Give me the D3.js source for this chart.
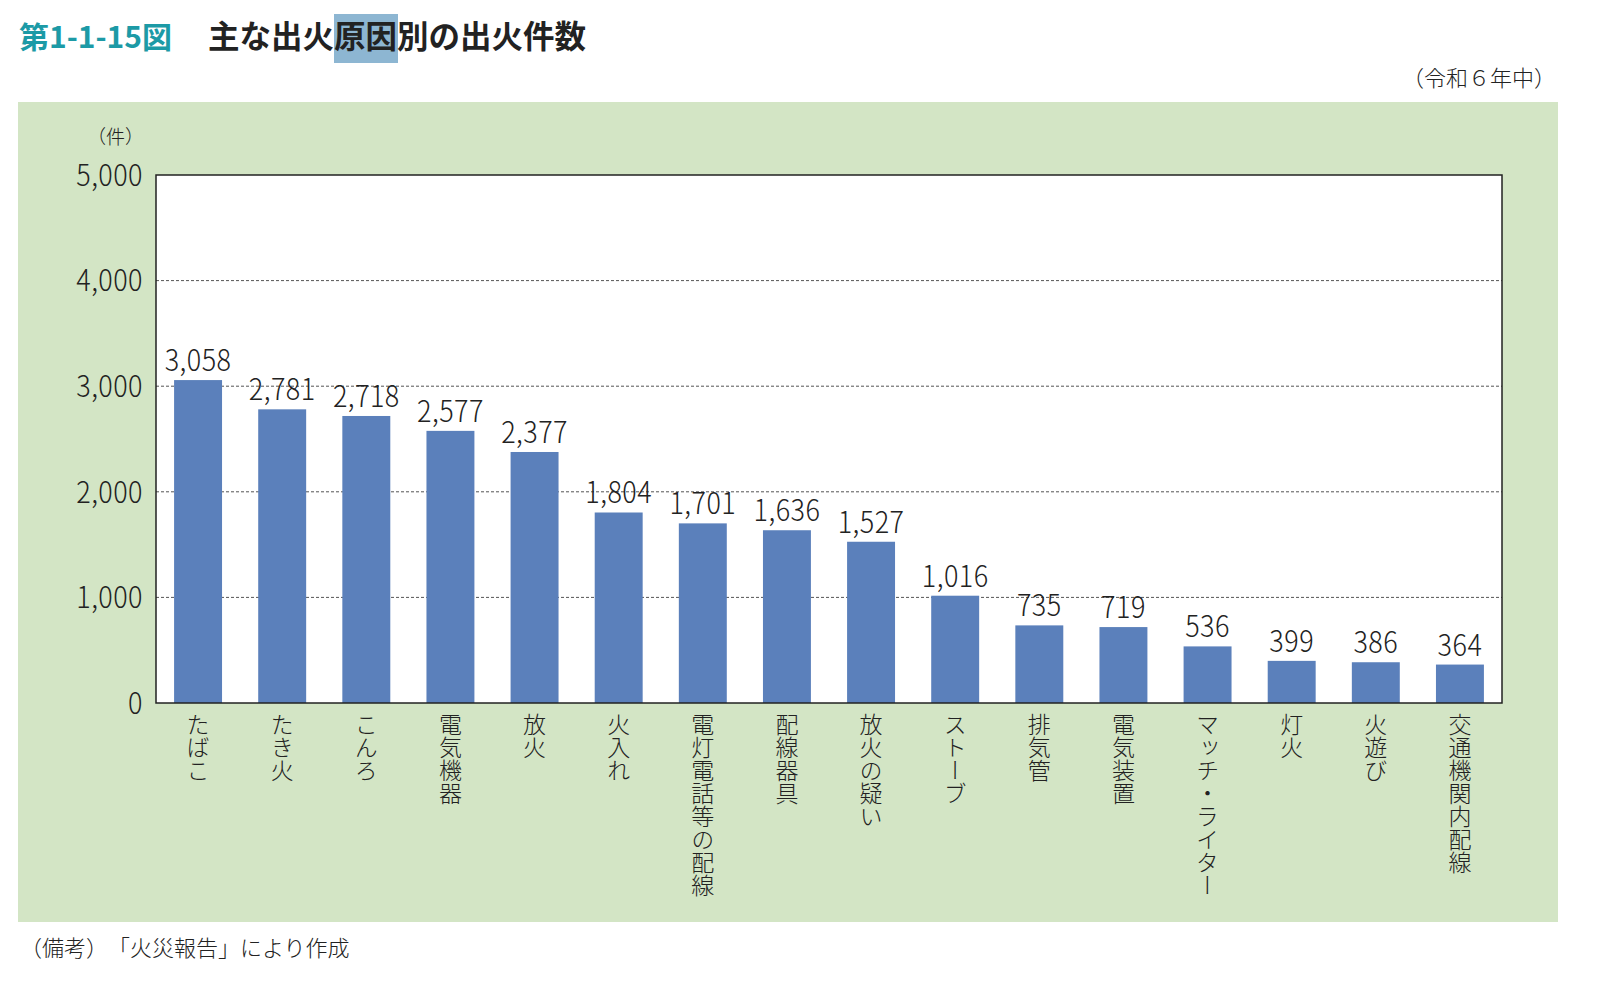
<!DOCTYPE html>
<html lang="ja">
<head>
<meta charset="UTF-8">
<title>主な出火原因別の出火件数</title>
<script src="https://d3js.org/d3.v7.min.js"></script>
<style>
  body { margin: 0; background: #fff; }
  svg text { font-family: "Noto Sans CJK JP", "Noto Sans", sans-serif; fill: #222; }
</style>
</head>
<body>
<svg id="chart" width="1600" height="996"></svg>
<script>
// data
const causes = ["たばこ", "たき火", "こんろ", "電気機器", "放火", "火入れ", "電灯電話等の配線", "配線器具",
  "放火の疑い", "ストーブ", "排気管", "電気装置", "マッチ・ライター", "灯火", "火遊び", "交通機関内配線"];
const counts = [3058, 2781, 2718, 2577, 2377, 1804, 1701, 1636, 1527, 1016, 735, 719, 536, 399, 386, 364];
const yTicks = [0, 1000, 2000, 3000, 4000, 5000];

const BAR = "#5b80bb";
const PANEL = "#d3e5c5";
const TEAL = "#1c9aa6";
const fmt = d3.format(",");
const NUM_SQUEEZE = 0.9; // digits in the original are a bit condensed

const svg = d3.select("#chart");

// title
svg.append("rect")
  .attr("x", 334).attr("y", 14).attr("width", 64).attr("height", 49)
  .attr("fill", "#8db6d2");
svg.append("text")
  .attr("x", 19).attr("y", 48)
  .style("font-size", "30px").style("font-weight", "700").style("fill", TEAL)
  .text("第1-1-15図");
svg.append("text")
  .attr("x", 208).attr("y", 48)
  .style("font-size", "31.5px").style("font-weight", "700")
  .text("主な出火原因別の出火件数");
svg.append("text")
  .attr("x", 1556).attr("y", 86)
  .attr("text-anchor", "end")
  .style("font-size", "22px").style("font-weight", "300")
  .text("（令和６年中）");

// green panel
svg.append("rect")
  .attr("x", 18).attr("y", 102).attr("width", 1540).attr("height", 820)
  .attr("fill", PANEL);

const margin = {left: 156, top: 175, right: 1502, bottom: 703};

const x = d3.scaleBand()
  .domain(causes)
  .range([margin.left, margin.right])
  .paddingInner(0.43)
  .paddingOuter(0.215);

const y = d3.scaleLinear()
  .domain([0, 5000])
  .range([margin.bottom, margin.top]);

// plot area
svg.append("rect")
  .attr("x", margin.left).attr("y", margin.top)
  .attr("width", margin.right - margin.left).attr("height", margin.bottom - margin.top)
  .attr("fill", "#fff");

// gridlines
svg.append("g")
  .selectAll("line")
  .data(yTicks.filter(d => d > 0 && d < 5000))
  .join("line")
  .attr("x1", margin.left).attr("x2", margin.right)
  .attr("y1", d => y(d)).attr("y2", d => y(d))
  .attr("stroke", "#555").attr("stroke-width", 1)
  .attr("stroke-dasharray", "3,2");

// y tick labels
svg.append("g")
  .selectAll("text")
  .data(yTicks)
  .join("text")
  .attr("transform", d => `translate(143,${y(d)}) scale(${NUM_SQUEEZE},1)`)
  .attr("dy", "0.36em")
  .attr("text-anchor", "end")
  .style("font-size", "30px").style("font-weight", "300")
  .style("letter-spacing", "0.5px")
  .text(d => fmt(d));

svg.append("text")
  .attr("x", 144).attr("y", 144)
  .attr("text-anchor", "end")
  .style("font-size", "19px").style("font-weight", "300")
  .text("（件）");

// bars
svg.append("g")
  .selectAll("rect")
  .data(causes)
  .join("rect")
  .attr("x", d => x(d))
  .attr("y", (d, i) => y(counts[i]))
  .attr("width", x.bandwidth())
  .attr("height", (d, i) => y(0) - y(counts[i]))
  .attr("fill", BAR);

// value labels
svg.append("g")
  .selectAll("text")
  .data(causes)
  .join("text")
  .attr("transform", (d, i) =>
    `translate(${x(d) + x.bandwidth() / 2},${y(counts[i]) - 9}) scale(${NUM_SQUEEZE},1)`)
  .attr("text-anchor", "middle")
  .style("font-size", "30px").style("font-weight", "300")
  .style("letter-spacing", "0.5px")
  .text((d, i) => fmt(counts[i]));

// frame
svg.append("rect")
  .attr("x", margin.left).attr("y", margin.top)
  .attr("width", margin.right - margin.left).attr("height", margin.bottom - margin.top)
  .attr("fill", "none").attr("stroke", "#222").attr("stroke-width", 1.5);

// category labels, vertical
svg.append("g")
  .selectAll("text")
  .data(causes)
  .join("text")
  .attr("x", d => x(d) + x.bandwidth() / 2)
  .attr("y", 713)
  .style("writing-mode", "vertical-rl")
  .style("text-orientation", "upright")
  .style("font-size", "23px").style("font-weight", "300")
  .text(d => d);

// footnote
svg.append("text")
  .attr("x", 20).attr("y", 956)
  .style("font-size", "22px").style("font-weight", "300")
  .text("（備考）　「火災報告」により作成");
</script>
</body>
</html>
